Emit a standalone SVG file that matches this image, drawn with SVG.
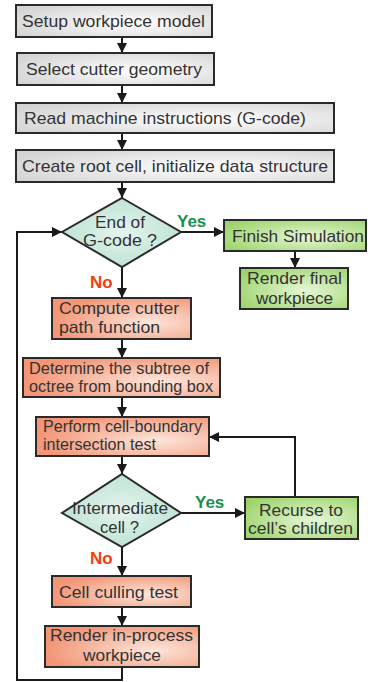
<svg xmlns="http://www.w3.org/2000/svg" width="370" height="682" viewBox="0 0 370 682">
<style>
text{font-family:"Liberation Sans",Arial,sans-serif;font-size:17px;fill:#333}
.c{text-anchor:middle}
.box{stroke:#2a2a2a;stroke-width:2}
.g{fill:url(#gGray)}
.o{fill:url(#gOrange)}
.gr{fill:url(#gGreen)}
.d{fill:url(#gTeal)}
.ln{fill:none;stroke:#1a1a1a;stroke-width:2}
.yes{fill:#1a9050;font-weight:bold}
.no{fill:#f04010;font-weight:bold}
</style>
<defs>
<radialGradient id="gGray" cx="0.6" cy="0.55" r="0.7"><stop offset="0" stop-color="#ffffff"/><stop offset="1" stop-color="#d4d4d4"/></radialGradient>
<radialGradient id="gOrange" cx="0.7" cy="0.6" r="0.7"><stop offset="0" stop-color="#fde6dc"/><stop offset="1" stop-color="#f29676"/></radialGradient>
<radialGradient id="gGreen" cx="0.6" cy="0.55" r="0.7"><stop offset="0" stop-color="#e6f6d8"/><stop offset="1" stop-color="#9cd46a"/></radialGradient>
<radialGradient id="gTeal" cx="0.5" cy="0.5" r="0.6"><stop offset="0" stop-color="#e6f4ee"/><stop offset="1" stop-color="#b6e0cf"/></radialGradient>
<marker id="ah" markerWidth="12" markerHeight="12" refX="10" refY="5" orient="auto" markerUnits="userSpaceOnUse"><path d="M0,0 L10,5 L0,10 Z" fill="#1a1a1a"/></marker>
</defs>
<g id="connectors">
<line class="ln" x1="122" y1="37" x2="122" y2="53" marker-end="url(#ah)"/>
<line class="ln" x1="122" y1="85" x2="122" y2="103" marker-end="url(#ah)"/>
<line class="ln" x1="122" y1="133" x2="122" y2="150" marker-end="url(#ah)"/>
<line class="ln" x1="122" y1="182" x2="122" y2="198" marker-end="url(#ah)"/>
<line class="ln" x1="180" y1="232" x2="224" y2="232" marker-end="url(#ah)"/>
<line class="ln" x1="295" y1="251" x2="295" y2="268" marker-end="url(#ah)"/>
<line class="ln" x1="122" y1="267" x2="122" y2="298" marker-end="url(#ah)"/>
<line class="ln" x1="122" y1="339" x2="122" y2="358" marker-end="url(#ah)"/>
<line class="ln" x1="122" y1="397" x2="122" y2="417" marker-end="url(#ah)"/>
<line class="ln" x1="122" y1="456" x2="122" y2="474" marker-end="url(#ah)"/>
<line class="ln" x1="181" y1="513" x2="245" y2="513" marker-end="url(#ah)"/>
<polyline class="ln" points="295,497 295,437 209,437" marker-end="url(#ah)"/>
<line class="ln" x1="122" y1="547" x2="122" y2="576" marker-end="url(#ah)"/>
<line class="ln" x1="122" y1="607" x2="122" y2="626" marker-end="url(#ah)"/>
<polyline class="ln" points="122,667 122,680 17,680 17,232 62,232" marker-end="url(#ah)"/>
<text class="yes" x="177" y="227">Yes</text>
<text class="no" x="90" y="288">No</text>
<text class="yes" x="195" y="508">Yes</text>
<text class="no" x="90" y="564">No</text>
</g>
<g id="n1"><rect class="box g" x="16" y="5" width="196" height="32"/><text x="22" y="27" textLength="183" lengthAdjust="spacingAndGlyphs">Setup workpiece model</text></g>
<g id="n2"><rect class="box g" x="17" y="53" width="197" height="32"/><text x="26" y="75" textLength="176" lengthAdjust="spacingAndGlyphs">Select cutter geometry</text></g>
<g id="n3"><rect class="box g" x="16" y="103" width="318" height="30"/><text x="24" y="124" textLength="282" lengthAdjust="spacingAndGlyphs">Read machine instructions (G-code)</text></g>
<g id="n4"><rect class="box g" x="16" y="150" width="318" height="32"/><text x="22" y="172" textLength="306" lengthAdjust="spacingAndGlyphs">Create root cell, initialize data structure</text></g>
<g id="d1"><polygon class="box d" points="122,198 181,232 122,267 62,232"/><text x="95" y="228" textLength="50" lengthAdjust="spacingAndGlyphs">End of</text><text x="83" y="246" textLength="74" lengthAdjust="spacingAndGlyphs">G-code ?</text></g>
<g id="n5"><rect class="box gr" x="224" y="220" width="142" height="31"/><text x="232" y="242" textLength="132" lengthAdjust="spacingAndGlyphs">Finish Simulation</text></g>
<g id="n6"><rect class="box gr" x="240" y="268" width="108" height="41"/><text x="247" y="284" textLength="95" lengthAdjust="spacingAndGlyphs">Render final</text><text x="256" y="304" textLength="77" lengthAdjust="spacingAndGlyphs">workpiece</text></g>
<g id="n7"><rect class="box o" x="52" y="298" width="139" height="41"/><text x="59" y="314" textLength="120" lengthAdjust="spacingAndGlyphs">Compute cutter</text><text x="59" y="333" textLength="101" lengthAdjust="spacingAndGlyphs">path function</text></g>
<g id="n8"><rect class="box o" x="23" y="358" width="197" height="39"/><text x="29" y="374" textLength="180" lengthAdjust="spacingAndGlyphs">Determine the subtree of</text><text x="29" y="392" textLength="184" lengthAdjust="spacingAndGlyphs">octree from bounding box</text></g>
<g id="n9"><rect class="box o" x="36" y="417" width="173" height="39"/><text x="43" y="432" textLength="159" lengthAdjust="spacingAndGlyphs">Perform cell-boundary</text><text x="43" y="450" textLength="113" lengthAdjust="spacingAndGlyphs">intersection test</text></g>
<g id="d2"><polygon class="box d" points="122,474 181,513 122,547 62,513"/><text x="72" y="514" textLength="96" lengthAdjust="spacingAndGlyphs">Intermediate</text><text x="100" y="533" textLength="39" lengthAdjust="spacingAndGlyphs">cell ?</text></g>
<g id="n10"><rect class="box gr" x="245" y="497" width="113" height="42"/><text x="259" y="516" textLength="84" lengthAdjust="spacingAndGlyphs">Recurse to</text><text x="248" y="534" textLength="105" lengthAdjust="spacingAndGlyphs">cell’s children</text></g>
<g id="n11"><rect class="box o" x="52" y="576" width="139" height="31"/><text x="59" y="598" textLength="119" lengthAdjust="spacingAndGlyphs">Cell culling test</text></g>
<g id="n12"><rect class="box o" x="45" y="626" width="154" height="41"/><text x="50" y="641" textLength="143" lengthAdjust="spacingAndGlyphs">Render in-process</text><text x="83" y="661" textLength="78" lengthAdjust="spacingAndGlyphs">workpiece</text></g>
</svg>
